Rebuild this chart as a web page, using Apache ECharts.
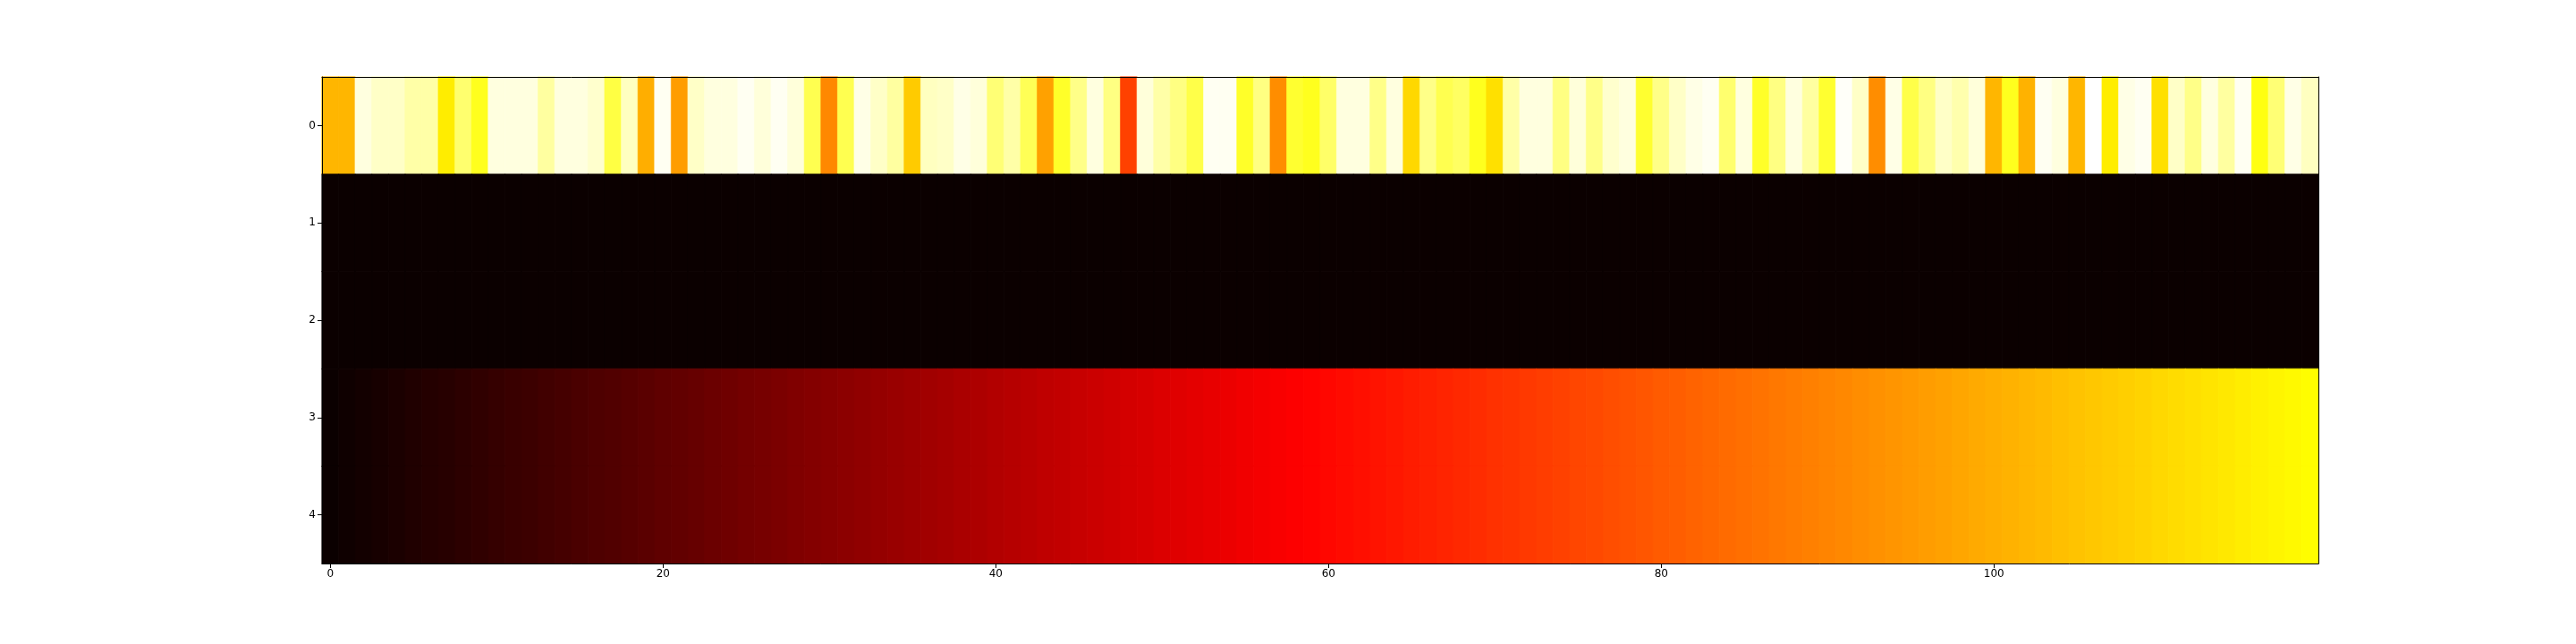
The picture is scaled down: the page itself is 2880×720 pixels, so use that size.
<!DOCTYPE html>
<html>
<head>
<meta charset="utf-8">
<style>
html,body{margin:0;padding:0;background:#fff;}
#chart{width:2880px;height:720px;}
</style>
<script src="https://cdn.jsdelivr.net/npm/echarts@6/dist/echarts.min.js"></script>
</head>
<body>
<div id="chart"></div>
<script>
// ---- data ----
const rowLabels = ['0', '1', '2', '3', '4'];
const xTickLabels = ['0', '20', '40', '60', '80', '100'];
const row0 = [
  102,102,155,151,151,146,146,115,137,124,
  155,155,155,145,155,155,152,130,150,100,
  158,96,151,155,155,158,154,158,154,132,
  91,132,156,151,145,107,150,151,156,154,
  138,146,133,97,126,141,155,140,74,154,
  146,140,131,158,158,126,140,92,127,124,
  136,155,155,141,155,110,141,132,135,124,
  112,146,155,155,140,154,141,152,155,127,
  141,151,156,158,137,155,126,140,155,145,
  127,159,151,92,156,131,140,151,147,154,
  102,124,101,158,155,102,160,115,156,158,
  112,151,141,155,145,158,122,138,156,150
];
const rowZero = [
  0,0,0,0,0,0,0,0,0,0, 0,0,0,0,0,0,0,0,0,0,
  0,0,0,0,0,0,0,0,0,0, 0,0,0,0,0,0,0,0,0,0,
  0,0,0,0,0,0,0,0,0,0, 0,0,0,0,0,0,0,0,0,0,
  0,0,0,0,0,0,0,0,0,0, 0,0,0,0,0,0,0,0,0,0,
  0,0,0,0,0,0,0,0,0,0, 0,0,0,0,0,0,0,0,0,0,
  0,0,0,0,0,0,0,0,0,0, 0,0,0,0,0,0,0,0,0,0
];
const rowRamp = [
  0,1,2,3,4,5,6,7,8,9,10,11,12,13,14,15,16,17,18,19,
  20,21,22,23,24,25,26,27,28,29,30,31,32,33,34,35,36,37,38,39,
  40,41,42,43,44,45,46,47,48,49,50,51,52,53,54,55,56,57,58,59,
  60,61,62,63,64,65,66,67,68,69,70,71,72,73,74,75,76,77,78,79,
  80,81,82,83,84,85,86,87,88,89,90,91,92,93,94,95,96,97,98,99,
  100,101,102,103,104,105,106,107,108,109,110,111,112,113,114,115,116,117,118,119
];
const rows = [row0, rowZero, rowZero, rowRamp, rowRamp];
const vMin = 0, vMax = 160;

// matplotlib 'hot' colormap
function hot(t) {
  t = Math.max(0, Math.min(1, t));
  const lerp = (pts) => {
    for (let i = 0; i < pts.length - 1; i++) {
      const [x0, y0] = pts[i], [x1, y1] = pts[i + 1];
      if (t <= x1) return y0 + (y1 - y0) * (t - x0) / (x1 - x0);
    }
    return pts[pts.length - 1][1];
  };
  const r = lerp([[0, 0.0416], [0.365079, 1], [1, 1]]);
  const g = lerp([[0, 0], [0.365079, 0], [0.746032, 1], [1, 1]]);
  const b = lerp([[0, 0], [0.746032, 0], [1, 1]]);
  const h = (c) => Math.round(c * 255).toString(16).padStart(2, '0');
  return '#' + h(r) + h(g) + h(b);
}
const cmap = [];
for (let i = 0; i < 256; i++) cmap.push(hot(i / 255));

// ---- build ----
const nCols = row0.length;
const xCats = [];
for (let i = 0; i < nCols; i++) xCats.push(String(i));
const heatData = [];
rows.forEach((r, yi) => r.forEach((v, xi) => {
  const c = hot((v - vMin) / (vMax - vMin));
  heatData.push({ value: [xi, yi, v], itemStyle: { borderColor: c, borderWidth: 0.6 } });
}));

const tickShown = (idx) => xTickLabels.indexOf(String(idx)) >= 0;
const axisFont = { fontFamily: 'DejaVu Sans', fontSize: 12, color: '#000' };
const lineStyle = { color: '#000', width: 1 };

const chart = echarts.init(document.getElementById('chart'), null, { renderer: 'canvas' });
chart.setOption({
  animation: false,
  backgroundColor: '#fff',
  grid: { left: 360, right: 288, top: 86, bottom: 90, containLabel: false },
  xAxis: [{
    type: 'category', data: xCats, position: 'bottom', z: 10,
    axisLine: { show: true, lineStyle: lineStyle },
    axisTick: { show: true, alignWithLabel: true, interval: (i) => tickShown(i), length: 5, lineStyle: lineStyle },
    axisLabel: Object.assign({ interval: (i) => tickShown(i), margin: 6 }, axisFont),
    splitLine: { show: false }
  }, {
    type: 'category', data: xCats, position: 'top', z: 10,
    axisLine: { show: true, lineStyle: lineStyle },
    axisTick: { show: false }, axisLabel: { show: false }, splitLine: { show: false }
  }],
  yAxis: [{
    type: 'category', data: rowLabels, inverse: true, position: 'left', z: 10,
    axisLine: { show: true, lineStyle: lineStyle },
    axisTick: { show: true, alignWithLabel: true, length: 5, lineStyle: lineStyle },
    axisLabel: Object.assign({ margin: 7 }, axisFont),
    splitLine: { show: false }
  }, {
    type: 'category', data: rowLabels, inverse: true, position: 'right', z: 10,
    axisLine: { show: true, lineStyle: lineStyle },
    axisTick: { show: false }, axisLabel: { show: false }, splitLine: { show: false }
  }],
  visualMap: {
    show: false, type: 'continuous', min: vMin, max: vMax, dimension: 2,
    seriesIndex: 0, inRange: { color: cmap }
  },
  series: [{
    type: 'heatmap', xAxisIndex: 0, yAxisIndex: 0, data: heatData,
    progressive: 0, emphasis: { disabled: true }
  }]
});
</script>
</body>
</html>
